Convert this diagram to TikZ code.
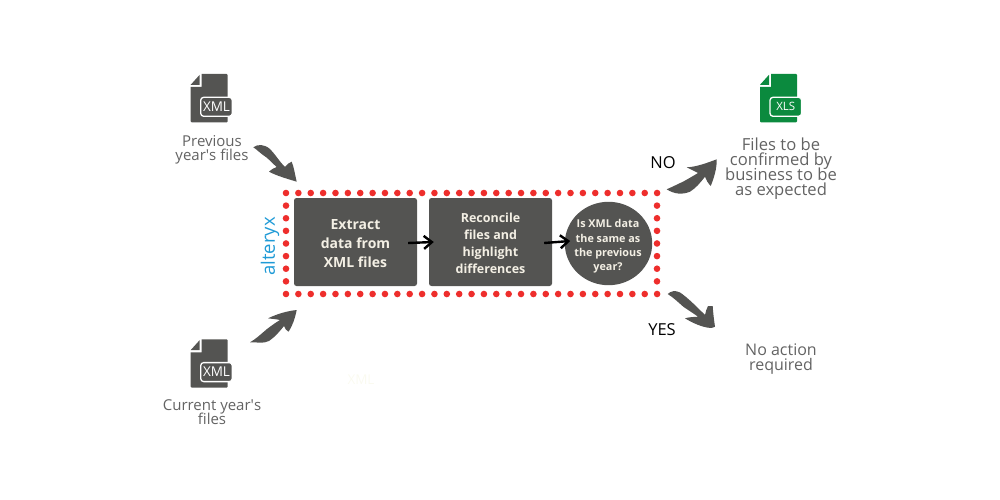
\documentclass[tikz,border=0pt]{standalone}
\usepackage{fontspec}
\setmainfont{Open Sans}
\usepackage{xcolor}
\usetikzlibrary{calc,arrows.meta}
\definecolor{boxgrey}{HTML}{545452}
\definecolor{textgrey}{HTML}{636363}
\definecolor{dotred}{HTML}{EE2E2C}
\definecolor{xlsgreen}{HTML}{0B8A3E}
\definecolor{paper}{HTML}{F3EFE4}
\definecolor{alteryxblue}{HTML}{1F9AD6}
\definecolor{ghost}{HTML}{FAFAF0}
\setlength{\lineskiplimit}{-20pt}
\setlength{\normallineskiplimit}{-20pt}
\tikzset{
    stepbox/.style={fill=boxgrey,rounded corners=2.5pt,inner sep=0pt,minimum width=123pt,minimum height=88pt,
        text=paper,align=center},
    note/.style={text=textgrey,align=center,font=\fontsize{15}{14}\selectfont},
    bignote/.style={text=textgrey,align=center,font=\fontsize{16.6}{15}\selectfont},
    answer/.style={text=black,font=\fontsize{16.5}{18}\selectfont},
    brush/.style={fill=boxgrey,line join=round},
    thin arrow/.style={-{Straight Barb[length=8pt,width=13pt]},line width=2.4pt,black},
}
% file icon: x, y of top left corner, colour, text
\newcommand{\fileicon}[4]{
    \begin{scope}[shift={(#1,#2)}]
        \fill[#3] (11,0) -- (36,0) [rounded corners=1pt] -- (37,0) -- (37,48.3) -- (0,48.3) [sharp corners] -- (0,13) -- (11,13) -- cycle;
        \fill[#3] (9,0.8) -- (9,10.8) -- (0,10.8) -- cycle;
        \filldraw[fill=#3,draw=white,line width=1.3pt,rounded corners=3pt] (10,23.3) rectangle (41.6,42.3);
        \node[text=white,font=\fontsize{#4}{14}\selectfont,inner sep=0pt] at (25.8,32.8) {\iconlabel};
    \end{scope}
}
\begin{document}
\begin{tikzpicture}[x=1pt,y=-1pt]
    \useasboundingbox (0,0) rectangle (1000,500);

    % file icons
    \def\iconlabel{XML}
    \fileicon{190.7}{74}{boxgrey}{13.5}
    \fileicon{190.7}{339.3}{boxgrey}{13.5}
    \def\iconlabel{XLS}
    \fileicon{760}{74}{xlsgreen}{11.5}

    \node[note] (prevfiles) at (212,149.5) {Previous\\year\textquotesingle s files};
    \node[note] (currfiles) at (212,412.5) {Current year\textquotesingle s\\files};
    \node[bignote] (confirm) at (781,168.5) {Files to be\\confirmed by\\business to be\\as expected};
    \node[bignote,font=\fontsize{16}{15.5}\selectfont] (noaction) at (781,359) {No action\\required};
    \node[answer] (no) at (663,163) {NO};
    \node[answer] (yes) at (662,330) {YES};
    \node[text=ghost,font=\fontsize{13.5}{14}\selectfont] (ghostxml) at (361,380) {XML};

    % red dotted frame
    \foreach \i in {0,...,30} {
        \fill[dotred] ({286+\i*12.37},193) circle (3.3);
        \fill[dotred] ({286+\i*12.37},294) circle (3.3);
    }
    \foreach \i in {1,...,7} {
        \fill[dotred] (286,{193+\i*12.62}) circle (3.3);
        \fill[dotred] (657,{193+\i*12.62}) circle (3.3);
    }

    \node[rotate=90,text=alteryxblue,font=\fontsize{18.5}{20}\selectfont] (alteryx) at (270,246.5) {alteryx};

    \node[stepbox] (extract) at (355.5,242) {};
    \node[text=paper,align=center,font=\fontsize{14}{19}\selectfont\bfseries] (extracttext) at (355.5,244) {Extract\\data from\\XML files};
    \node[stepbox] (reconcile) at (490.5,242) {};
    \node[text=paper,align=center,font=\fontsize{12.5}{16.8}\selectfont\bfseries] (reconciletext) at (490.5,243.5) {Reconcile\\files and\\highlight\\differences};
    \fill[boxgrey] (608.5,243.5) ellipse (43.7 and 41.7);
    \node[text=paper,align=center,inner sep=0pt,font=\fontsize{10.8}{14.4}\selectfont\bfseries] (same) at (608,246.5) {Is XML data\\the same as\\the previous\\year?};

    % small arrows
    \draw[thin arrow] ($(extract.east)+(-9,1)$) -- ($(reconcile.west)+(5,0)$);
    \draw[thin arrow] ($(reconcile.east)+(-8,1)$) -- ($(reconcile.east)+(18,-1)$);

    % thick arrows
    \coordinate (prevtail) at (253.3,147.3);
    \coordinate (prevtip) at (296.7,181.7);
    \fill[brush] (prevtail) .. controls (258,144) and (264,144) .. (270,149) .. controls (275,154) and (279,161) .. (285,167)
        .. controls (287,165) and (289,162) .. (291.7,161.7) .. controls (294,167) and (295,175) .. (prevtip)
        .. controls (288,179) and (277,176) .. (269,171.7) .. controls (272,169) and (274,168) .. (276.7,167)
        .. controls (271,162) and (268,158) .. (263,155) .. controls (259,152) and (256,149) .. cycle;

    \coordinate (currtail) at (250,342.3);
    \coordinate (currtip) at (296.7,310);
    \fill[brush] (currtail) .. controls (257,342) and (263,344) .. (269,341) .. controls (275,337) and (280,331) .. (284,326)
        .. controls (285,328) and (286,331) .. (288.5,331.7) .. controls (293,325) and (295,318) .. (currtip)
        .. controls (287,311) and (277,314) .. (268,318.3) .. controls (272,319) and (276,319) .. (280,320)
        .. controls (275,323) and (271,326) .. (267,329) .. controls (261,334) and (256,339) .. cycle;

    \coordinate (notail) at (666.7,189.3);
    \coordinate (notip) at (716.7,159.3);
    \fill[brush] (notail) .. controls (672,187) and (678,184) .. (683,181.7) .. controls (688,179) and (693,176) .. (698,173)
        .. controls (694,171) and (690,169) .. (686.7,167.3) .. controls (696,167) and (707,163) .. (notip)
        .. controls (717,168) and (714,178) .. (710.7,186) .. controls (708,183) and (706,180) .. (705,176.7)
        .. controls (700,183) and (696,188) .. (690,191.7) .. controls (682,195) and (674,194) .. cycle;

    \coordinate (yestail) at (667.7,294);
    \coordinate (yestip) at (715,326.7);
    \fill[brush] (yestail) .. controls (671,291) and (675,290) .. (680,292.5) .. controls (687,297) and (697,307) .. (705,315)
        .. controls (706,312) and (706,309) .. (708,306) .. controls (709,306) and (711,306) .. (712.7,306)
        .. controls (713,312) and (714,320) .. (yestip) .. controls (712,328.5) and (709,328) .. (707,327.5)
        .. controls (699,326) and (691,322) .. (685,318.3) .. controls (689,317) and (694,317) .. (698,316.7)
        .. controls (693,313) and (688,310) .. (683.3,306.7) .. controls (679,303) and (674,298) .. cycle;

\end{tikzpicture}
\end{document}
